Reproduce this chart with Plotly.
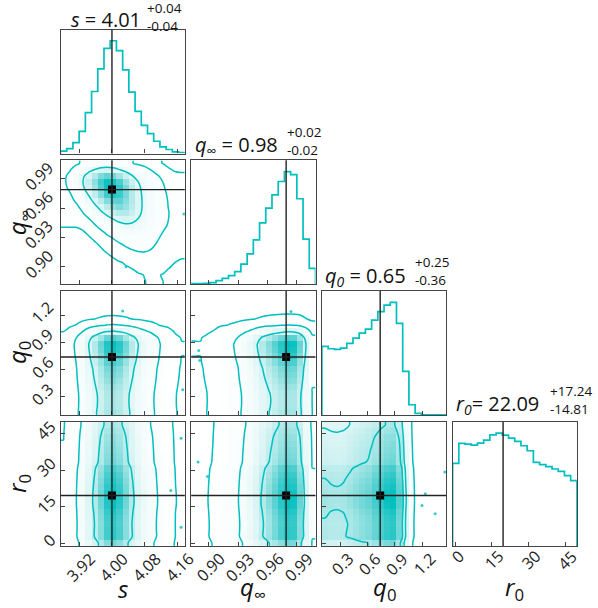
import numpy as np
import plotly.graph_objects as go

FIG_W, FIG_H = 598, 608
CYAN = "#00bfbf"
FONT = "Open Sans"

# ---------------- data ----------------
s_range = [3.875, 4.177]
qinf_range = [0.882, 1.009]
q0_range = [0.10, 1.465]
r0_range = [-1.0, 49.7]

# 1D histogram counts (20 bins spanning each range)
s_counts = [7, 15, 33, 67, 123, 187, 255, 317, 340, 310, 252, 185, 127, 85, 60, 37, 20, 12, 5, 3]
qinf_counts = [2, 2, 3, 5, 11, 18, 26, 38, 61, 92, 134, 185, 230, 270, 310, 340, 331, 258, 136, 48]
q0_counts = [206, 199, 197, 201, 215, 231, 246, 258, 285, 310, 330, 338, 275, 131, 31, 5, 1, 1, 1, 1]
r0_counts = [249, 309, 307, 304, 310, 319, 335, 340, 334, 325, 315, 302, 287, 252, 245, 239, 232, 225, 212, 197]

# shift of the s distribution per q_inf bin (the s / q_inf anticorrelation)
s_shift_by_qinf = [0.100, 0.095, 0.090, 0.085, 0.078, 0.070, 0.062, 0.054, 0.046, 0.038,
                   0.030, 0.022, 0.015, 0.008, 0.002, -0.004, -0.008, -0.012, -0.015, -0.018]

# isolated samples outside the outer contours: (col param, row param) -> (x list, y list)
outliers = {
    (0, 1): ([4.034, 4.175], [0.900, 0.954]),
    (0, 2): ([4.172, 4.026], [0.38, 1.245]),
    (0, 3): ([4.168, 4.143, 4.168], [43.0, 21.7, 6.6]),
    (1, 2): ([0.8907, 0.8897, 0.984], [0.70, 0.81, 1.24]),
    (1, 3): ([0.889, 0.8986], [33.3, 27.4]),
    (2, 3): ([1.235, 1.199, 1.344, 1.45], [20.3, 15.5, 12.1, 29.2]),
}

truths = [4.00, 0.979, 0.74, 19.6]

tick_vals = [[3.92, 4.00, 4.08, 4.16], [0.90, 0.93, 0.96, 0.99], [0.3, 0.6, 0.9, 1.2], [0, 15, 30, 45]]
tick_text = [["3.92", "4.00", "4.08", "4.16"], ["0.90", "0.93", "0.96", "0.99"],
             ["0.3", "0.6", "0.9", "1.2"], ["0", "15", "30", "45"]]

axis_labels = ["<i>s</i>", "<i>q</i><sub>∞</sub>", "<i>q</i><sub>0</sub>", "<i>r</i><sub>0</sub>"]
title_main = ["<i>s</i> = 4.01", "<i>q</i><sub>∞</sub> = 0.98", "<i>q<sub>0</sub></i> = 0.65", "<i>r<sub>0</sub></i>= 22.09"]
title_plus = ["+0.04", "+0.02", "+0.25", "+17.24"]
title_minus = ["-0.04", "-0.02", "-0.36", "-14.81"]

levels = [0.68, 0.95, 0.997]

ranges = [s_range, qinf_range, q0_range, r0_range]
counts = [s_counts, qinf_counts, q0_counts, r0_counts]

# ---------------- geometry (pixels) ----------------
col_left = [60.5, 191.2, 321.9, 452.6]
PW = 124.3
row_top = [29.5, 160.3, 291.1, 421.9]
PH = 124.0

title_main_right = [143, 280, 408, 541]
title_main_y = [19, 146, 276, 405]
title_err_left = [145, 285, 413, 548]
title_err_y = [17, 141, 271, 400]


def px_x(p):
    return p / FIG_W


def px_y(p):
    return 1 - p / FIG_H


def edges_of(i):
    lo, hi = ranges[i]
    return np.linspace(lo, hi, len(counts[i]) + 1)


def centers_of(i):
    e = edges_of(i)
    return 0.5 * (e[1:] + e[:-1])


def density(ci, ri):
    hx = np.array(counts[ci], float)
    hy = np.array(counts[ri], float)
    if (ci, ri) == (0, 1):
        cx = centers_of(0)
        Hm = np.array([hy[k] * np.interp(cx - s_shift_by_qinf[k], cx, hx, left=hx[0], right=hx[-1])
                       for k in range(len(hy))])
    else:
        Hm = np.outer(hy, hx)
    return Hm / Hm.sum()


def level_values(Hm):
    flat = np.sort(Hm.flatten())[::-1]
    sm = np.cumsum(flat)
    sm /= sm[-1]
    out = []
    for v0 in levels:
        sel = flat[sm <= v0]
        out.append(sel[-1] if len(sel) else flat[0])
    return out


density_scale = [[0, "#ffffff"], [0.2, "#f3fbfb"], [0.4, "#d8f4f4"], [0.6, "#a3e5e5"],
                 [0.8, "#56d0d0"], [1, CYAN]]

fig = go.Figure()
layout_axes = {}
annotations = []
shapes = []

k = 0
for r in range(4):
    for c in range(r + 1):
        k += 1
        xa = "x" if k == 1 else f"x{k}"
        ya = "y" if k == 1 else f"y{k}"
        xname = "xaxis" if k == 1 else f"xaxis{k}"
        yname = "yaxis" if k == 1 else f"yaxis{k}"
        xdom = [px_x(col_left[c]), px_x(col_left[c] + PW)]
        ydom = [px_y(row_top[r] + PH), px_y(row_top[r])]
        common = dict(showline=True, mirror=True, linecolor="#444", linewidth=1.2,
                      ticks="inside", ticklen=4, tickcolor="#444", tickwidth=1,
                      showgrid=False, zeroline=False, showticklabels=False, fixedrange=True)
        layout_axes[xname] = dict(domain=xdom, range=ranges[c], anchor=ya,
                                  tickvals=tick_vals[c], **common)
        if r == c:
            ymax = 1.1 * max(counts[c])
            layout_axes[yname] = dict(domain=ydom, range=[0, ymax], anchor=xa,
                                      tickvals=[], **common)
            e = edges_of(c)
            hx = [e[0]] + list(e) + [e[-1]]
            hy = [0] + list(counts[c]) + [counts[c][-1], 0]
            fig.add_trace(go.Scatter(x=hx, y=hy, mode="lines", line=dict(color=CYAN, width=1.7, shape="hv"),
                                     xaxis=xa, yaxis=ya, hoverinfo="skip", showlegend=False))
            shapes.append(dict(type="line", xref=xa, yref=f"{ya} domain", x0=truths[c], x1=truths[c],
                               y0=0, y1=1, line=dict(color="#222", width=1.4)))
        else:
            layout_axes[yname] = dict(domain=ydom, range=ranges[r], anchor=xa,
                                      tickvals=tick_vals[r], **common)
            Hm = density(c, r)
            cx = centers_of(c)
            cy = centers_of(r)
            fig.add_trace(go.Heatmap(x=cx, y=cy, z=Hm, zmin=0, zmax=Hm.max(),
                                     colorscale=density_scale, showscale=False,
                                     xaxis=xa, yaxis=ya, hoverinfo="skip"))
            ox, oy = outliers[(c, r)]
            fig.add_trace(go.Scatter(x=ox, y=oy, mode="markers",
                                     marker=dict(size=3, color=CYAN, opacity=0.8),
                                     xaxis=xa, yaxis=ya, hoverinfo="skip", showlegend=False))
            xp = np.concatenate([[ranges[c][0]], cx, [ranges[c][1]]])
            yp = np.concatenate([[ranges[r][0]], cy, [ranges[r][1]]])
            Zp = np.pad(Hm, 1, mode="edge")
            for v in level_values(Hm):
                fig.add_trace(go.Contour(x=xp, y=yp, z=Zp, autocontour=False,
                                         contours=dict(start=v, end=v, size=v, coloring="none"),
                                         line=dict(color=CYAN, width=1.5, smoothing=1.0),
                                         showscale=False, xaxis=xa, yaxis=ya, hoverinfo="skip"))
            shapes.append(dict(type="line", xref=xa, yref=f"{ya} domain", x0=truths[c], x1=truths[c],
                               y0=0, y1=1, line=dict(color="#222", width=1.4)))
            shapes.append(dict(type="line", xref=f"{xa} domain", yref=ya, x0=0, x1=1,
                               y0=truths[r], y1=truths[r], line=dict(color="#222", width=1.4)))
            fig.add_trace(go.Scatter(x=[truths[c]], y=[truths[r]], mode="markers",
                                     marker=dict(symbol="square", size=8, color="#000"),
                                     xaxis=xa, yaxis=ya, hoverinfo="skip", showlegend=False))

        # x tick labels on the bottom row
        if r == 3:
            for v, t in zip(tick_vals[c], tick_text[c]):
                off = 7 + 3.6 * len(t)
                annotations.append(dict(x=v, xref=xa, y=px_y(row_top[r] + PH), yref="paper",
                                        text=t, textangle=-45, showarrow=False, xanchor="center",
                                        yanchor="middle", yshift=-off, xshift=2,
                                        font=dict(family=FONT, size=16, color="#222")))
        # y tick labels on the left column
        if c == 0 and r > 0:
            for v, t in zip(tick_vals[r], tick_text[r]):
                off = 7 + 3.6 * len(t)
                annotations.append(dict(x=px_x(col_left[0]), xref="paper", y=v, yref=ya,
                                        text=t, textangle=-45, showarrow=False, xanchor="center",
                                        yanchor="middle", xshift=-off, yshift=3,
                                        font=dict(family=FONT, size=16, color="#222")))

# axis labels
for i in range(4):
    annotations.append(dict(x=px_x(col_left[i] + PW / 2), y=px_y(588), xref="paper", yref="paper",
                            text=axis_labels[i], showarrow=False, xanchor="center", yanchor="middle",
                            font=dict(family=FONT, size=24, color="#111")))
for i in range(1, 4):
    annotations.append(dict(x=px_x(18), y=px_y(row_top[i] + PH / 2), xref="paper", yref="paper",
                            text=axis_labels[i], textangle=-90, showarrow=False, xanchor="center",
                            yanchor="middle", font=dict(family=FONT, size=24, color="#111")))

# titles: main value plus stacked +/- errors
for i in range(4):
    annotations.append(dict(x=px_x(title_main_right[i]), y=px_y(title_main_y[i]), xref="paper", yref="paper",
                            text=title_main[i], showarrow=False, xanchor="right", yanchor="middle",
                            font=dict(family=FONT, size=20, color="#111")))
    annotations.append(dict(x=px_x(title_err_left[i]), y=px_y(title_err_y[i]), xref="paper", yref="paper",
                            text=f"{title_plus[i]}<br>{title_minus[i]}", showarrow=False,
                            xanchor="left", yanchor="middle", align="left",
                            font=dict(family=FONT, size=13.5, color="#111")))

fig.update_layout(width=FIG_W, height=FIG_H, margin=dict(l=0, r=0, t=0, b=0),
                  paper_bgcolor="white", plot_bgcolor="white", showlegend=False,
                  annotations=annotations, shapes=shapes, **layout_axes)

fig.write_html("out.html", config={"displayModeBar": False})
